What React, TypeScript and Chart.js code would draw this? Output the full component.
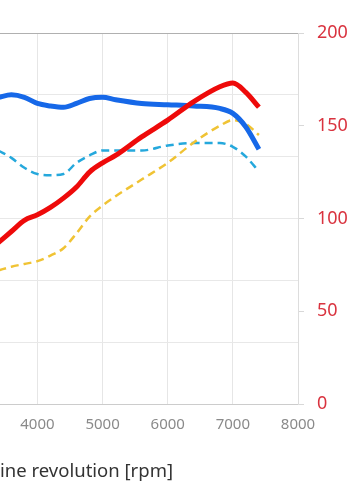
import React, { useEffect, useRef } from "react";
import { Chart, registerables } from "chart.js";

Chart.register(...registerables);

const rpm = [3400, 3600, 3800, 4000, 4200, 4400, 4600, 4800, 5000, 5200, 5600, 6000, 6400, 6800, 7000, 7200, 7400];
const torqueSolid = [248, 250, 248, 243, 241, 240, 243, 247, 248, 246, 243, 242, 241, 239, 235, 224, 206];
const torqueDashed = [205, 199, 191, 186, 185, 186, 195, 201, 205, 205, 205, 209, 211, 211, 208, 200, 188];
const powerSolid = [87, 93, 99, 102, 106, 111, 117, 125, 130, 134, 144, 153, 163, 171, 173, 168, 160];
const powerDashed = [72, 74, 75.5, 77, 80, 84, 92, 101, 107, 112, 121, 130, 141, 150, 153, 151, 145];
const xTitle = "Engine revolution [rpm]";
const rightTicks = [0, 50, 100, 150, 200];

const pts = (ys: number[]) => rpm.map((x, i) => ({ x, y: ys[i] }));

export default function App() {
  const ref = useRef<HTMLCanvasElement | null>(null);
  useEffect(() => {
    document.body.style.margin = "0";
    const font = "'Noto Sans', 'Noto Sans CJK JP', sans-serif";
    const chart = new Chart(ref.current!, {
      type: "line",
      data: {
        datasets: [
          { data: pts(powerSolid), borderColor: "#ee0a0a", borderWidth: 5, yAxisID: "y1", pointRadius: 0, cubicInterpolationMode: "monotone" },
          { data: pts(torqueSolid), borderColor: "#1668e8", borderWidth: 5, yAxisID: "y", pointRadius: 0, cubicInterpolationMode: "monotone" },
          { data: pts(powerDashed), borderColor: "#f0c334", borderWidth: 2.5, borderDash: [8, 5], yAxisID: "y1", pointRadius: 0, cubicInterpolationMode: "monotone" },
          { data: pts(torqueDashed), borderColor: "#25a8dc", borderWidth: 2.5, borderDash: [8, 5], yAxisID: "y", pointRadius: 0, cubicInterpolationMode: "monotone" },
        ],
      },
      options: {
        animation: false,
        responsive: false,
        layout: { padding: { top: 33, left: 0, right: 0, bottom: 0 } },
        plugins: { legend: { display: false }, tooltip: { enabled: false } },
        scales: {
          x: {
            type: "linear",
            min: 1000,
            max: 8000,
            ticks: { stepSize: 1000, color: "#8a8a8a", font: { family: font, size: 15 }, padding: 12, callback: (v: any) => String(v) },
            grid: { color: "#e6e6e6", drawTicks: false, tickLength: 0 },
            border: { color: "#cccccc" },
            title: { display: true, text: xTitle, color: "#333333", font: { family: font, size: 18.5 }, padding: { top: 0, bottom: 21 } },
            afterFit: (s: any) => { s.height = 100; },
          },
          y: {
            position: "left",
            min: 0,
            max: 300,
            ticks: { stepSize: 50, color: "#8a8a8a", font: { family: font, size: 15 } },
            grid: { color: (c: any) => (c.tick && c.tick.value === 300 ? "#b0b0b0" : "#e8e8e8"), drawTicks: false },
            border: { display: false },
            afterFit: (s: any) => { s.width = 60; },
          },
          y1: {
            position: "right",
            min: 0,
            max: 200,
            afterBuildTicks: (s: any) => { s.ticks = rightTicks.map((v) => ({ value: v })); },
            ticks: { color: "#d9333f", font: { family: font, size: 18 }, padding: 13 },
            grid: { drawOnChartArea: false, color: "#d8d8d8", tickLength: 6 },
            border: { color: "#dddddd" },
            afterFit: (s: any) => { s.width = 62; },
          },
        },
      } as any,
    });
    return () => chart.destroy();
  }, []);
  return (
    <div style={{ position: "fixed", left: 0, top: 0, width: 360, height: 504, overflow: "hidden", background: "#fff" }}>
      <canvas ref={ref} width={578} height={504} style={{ position: "absolute", left: -218, top: 0 }} />
    </div>
  );
}
